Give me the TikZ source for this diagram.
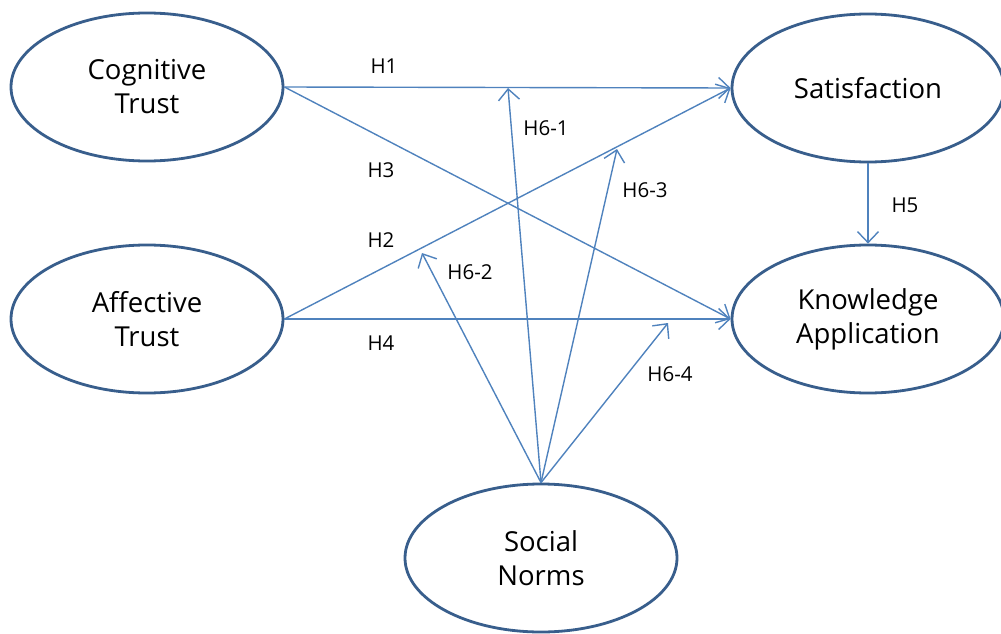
\documentclass[tikz,border=0pt]{standalone}
\usepackage{fontspec}
\setmainfont{Open Sans}
\usetikzlibrary{arrows.meta,shapes.geometric}

\definecolor{ringcolor}{rgb}{0.22, 0.37, 0.55}
\definecolor{linkcolor}{rgb}{0.31, 0.51, 0.74}

\tikzset{
  construct/.style={ellipse, draw=ringcolor, line width=2.8pt, fill=white,
    minimum width=272pt, minimum height=148pt, inner sep=0pt, align=center,
    font=\fontsize{27.5}{34}\selectfont},
  link/.style={draw=linkcolor, line width=1.4pt,
    -{Straight Barb[length=11pt,width=21pt]}},
  hlabel/.style={font=\fontsize{20.5}{24}\selectfont, inner sep=0pt}
}

\begin{document}
\begin{tikzpicture}[x=1pt,y=-1pt]
\useasboundingbox (0,0) rectangle (1001,634);

% constructs
\node[construct] (cog) at (147,87) {Cognitive\\Trust};
\node[construct] (aff) at (147,319) {Affective\\Trust};
\node[construct] (sat) at (868,88) {Satisfaction};
\node[construct] (know) at (868,319) {Knowledge\\Application};
\node[construct] (soc) at (541,558) {Social\\Norms};

% moderating arrow ends
\coordinate (m1) at (508,88);
\coordinate (m2) at (422,253);
\coordinate (m3) at (617,149);
\coordinate (m4) at (668,323);

% direct paths
\draw[link] (cog.east) -- (sat.west);
\draw[link] (cog.east) -- (know.west);
\draw[link] (aff.east) -- (sat.west);
\draw[link] (aff.east) -- (know.west);
\draw[link] (sat.south) -- (know.north);

% moderation
\draw[link] (soc.north) -- (m1);
\draw[link] (soc.north) -- (m2);
\draw[link] (soc.north) -- (m3);
\draw[link] (soc.north) -- (m4);

% labels
\node[hlabel] (h1) at (384,66) {H1};
\node[hlabel] (h3) at (381,170) {H3};
\node[hlabel] (h2) at (381,240) {H2};
\node[hlabel] (h4) at (381,343) {H4};
\node[hlabel] (h5) at (905,205) {H5};
\node[hlabel] (h61) at (546,128) {H6-1};
\node[hlabel] (h62) at (470,272) {H6-2};
\node[hlabel] (h63) at (645,190) {H6-3};
\node[hlabel] (h64) at (670,374) {H6-4};
\end{tikzpicture}
\end{document}
